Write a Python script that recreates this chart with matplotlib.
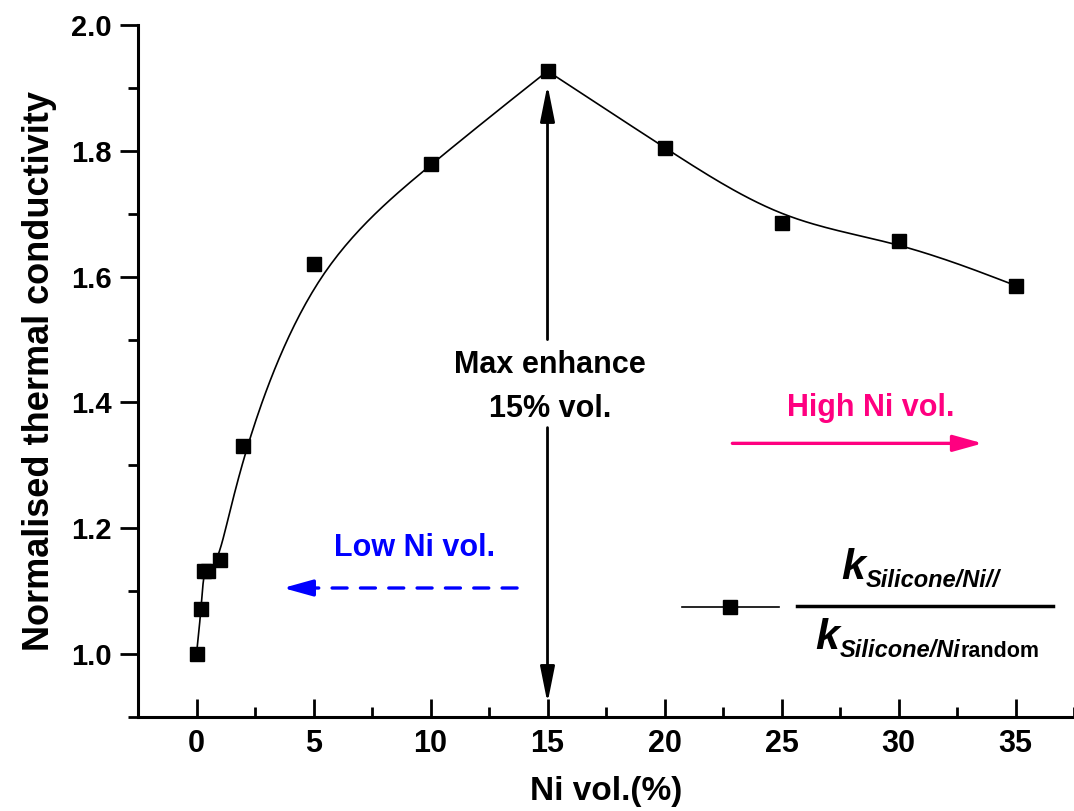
import numpy as np
import matplotlib
matplotlib.use("Agg")
import matplotlib.pyplot as plt
from matplotlib.lines import Line2D

# data
ni_vol = [0, 0.2, 0.3, 0.5, 1, 2, 5, 10, 15, 20, 25, 30, 35]
k_norm = [1.00, 1.071, 1.132, 1.132, 1.149, 1.33, 1.62, 1.779, 1.927, 1.805, 1.686, 1.657, 1.586]

x_ticks = [0, 5, 10, 15, 20, 25, 30, 35]
y_ticks = [1.0, 1.2, 1.4, 1.6, 1.8, 2.0]

plt.rcParams['font.family'] = ['Liberation Sans', 'DejaVu Sans']


def bspline_curve(x, y, keep=(), n=30):
    # uniform cubic B-spline using the points as control points;
    # ends and the points listed in keep are repeated so the curve touches them
    px, py = [], []
    for i, (a, b) in enumerate(zip(x, y)):
        rep = 3 if (i == 0 or i == len(x) - 1 or i in keep) else 1
        px += [a] * rep
        py += [b] * rep
    px = np.array(px, float)
    py = np.array(py, float)
    t = np.linspace(0, 1, n)
    b0 = (1 - t)**3 / 6
    b1 = (3 * t**3 - 6 * t**2 + 4) / 6
    b2 = (-3 * t**3 + 3 * t**2 + 3 * t + 1) / 6
    b3 = t**3 / 6
    xs, ys = [], []
    for i in range(len(px) - 3):
        xs.append(b0 * px[i] + b1 * px[i + 1] + b2 * px[i + 2] + b3 * px[i + 3])
        ys.append(b0 * py[i] + b1 * py[i + 1] + b2 * py[i + 2] + b3 * py[i + 3])
    return np.concatenate(xs), np.concatenate(ys)


fig = plt.figure(figsize=(10.74, 8.11), dpi=100)
ax = fig.add_axes([0.1285, 0.116, 0.8715, 0.853])

peak = int(np.argmax(k_norm))
xs, ys = bspline_curve(ni_vol, k_norm, keep=(peak,))
ax.plot(xs, ys, color='black', lw=1.2)
ax.plot(ni_vol, k_norm, 's', color='black', ms=10.5)

ax.set_xlim(-2.5, 37.5)
ax.set_ylim(0.9, 2.0)
ax.set_xticks(x_ticks)
ax.set_xticks(np.arange(-2.5, 37.6, 2.5), minor=True)
ax.set_yticks(y_ticks)
ax.set_yticks(np.arange(0.9, 2.01, 0.1), minor=True)
ax.set_yticklabels(['%.1f' % v for v in y_ticks], fontsize=21, fontweight='bold')
ax.set_xticklabels([str(v) for v in x_ticks], fontsize=22, fontweight='bold')

ax.tick_params(axis='x', which='major', direction='in', length=13, width=2, pad=9)
ax.tick_params(axis='x', which='minor', direction='in', length=7, width=2)
ax.tick_params(axis='y', which='major', direction='out', length=13, width=2, pad=6)
ax.tick_params(axis='y', which='minor', direction='out', length=7, width=2)

for s in ['top', 'right']:
    ax.spines[s].set_visible(False)
for s in ['left', 'bottom']:
    ax.spines[s].set_linewidth(2.2)

ax.set_xlabel('Ni vol.(%)', fontsize=24, fontweight='bold', labelpad=12)
ax.set_ylabel('Normalised thermal conductivity', fontsize=26, fontweight='bold',
              labelpad=10)

# max enhance arrow at 15 %
ax.text(15.1, 1.425, 'Max enhance\n15% vol.', ha='center', va='center',
        fontsize=22, fontweight='bold', linespacing=1.6)
head = dict(arrowstyle='-|>,head_length=1.1,head_width=0.22', mutation_scale=20,
            color='black', lw=2, shrinkA=0, shrinkB=0)
ax.annotate('', xy=(15, 1.905), xytext=(15, 1.5), arrowprops=head)
ax.annotate('', xy=(15, 0.922), xytext=(15, 1.36), arrowprops=head)

# low / high Ni arrows
ax.text(9.3, 1.168, 'Low Ni vol.', ha='center', va='center', color='#0000FF',
        fontsize=22, fontweight='bold')
ax.annotate('', xy=(4.6, 1.105), xytext=(13.7, 1.105),
            arrowprops=dict(arrowstyle='-', color='#0000FF', lw=2.4,
                            linestyle=(0, (4.5, 4)), shrinkA=0, shrinkB=0))
ax.annotate('', xy=(3.7, 1.105), xytext=(4.7, 1.105),
            arrowprops=dict(arrowstyle='-|>,head_length=0.9,head_width=0.25',
                            mutation_scale=20, color='#0000FF', lw=2.4,
                            shrinkA=0, shrinkB=0))
ax.text(28.8, 1.392, 'High Ni vol.', ha='center', va='center', color='#FF0080',
        fontsize=22, fontweight='bold')
ax.annotate('', xy=(33.6, 1.335), xytext=(22.9, 1.335),
            arrowprops=dict(arrowstyle='-|>,head_length=0.9,head_width=0.25',
                            mutation_scale=20, color='#FF0080', lw=2.4,
                            shrinkA=0, shrinkB=0))

# legend sample + fraction label
h = Line2D([], [], color='black', lw=1.2, marker='s', ms=10.5)
ax.legend(handles=[h], labels=[''], loc='center left', frameon=False, fontsize=20,
          handlelength=3.5, borderpad=0, borderaxespad=0, handletextpad=0,
          bbox_to_anchor=(20.74, 1.071), bbox_transform=ax.transData)

num_k = ax.text(27.57, 1.119, 'k', fontsize=31, style='italic', fontweight='bold',
                ha='left', va='baseline')
ax.annotate('Silicone/Ni//', xy=(1, 0), xycoords=num_k, xytext=(0, 1),
            textcoords='offset points', fontsize=17, style='italic',
            fontweight='bold', va='baseline')
den_k = ax.text(26.46, 1.008, 'k', fontsize=31, style='italic', fontweight='bold',
                ha='left', va='baseline')
den_sub = ax.annotate('Silicone/Ni', xy=(1, 0), xycoords=den_k, xytext=(0, 1),
                      textcoords='offset points', fontsize=17, style='italic',
                      fontweight='bold', va='baseline')
ax.annotate('random', xy=(1, 0), xycoords=den_sub, xytext=(0, 0),
            textcoords='offset points', fontsize=15.5, fontweight='bold',
            va='bottom')
ax.add_line(Line2D([25.65, 36.62], [1.076, 1.076], color='black', lw=2.5))

fig.savefig('out.png', dpi=100)
